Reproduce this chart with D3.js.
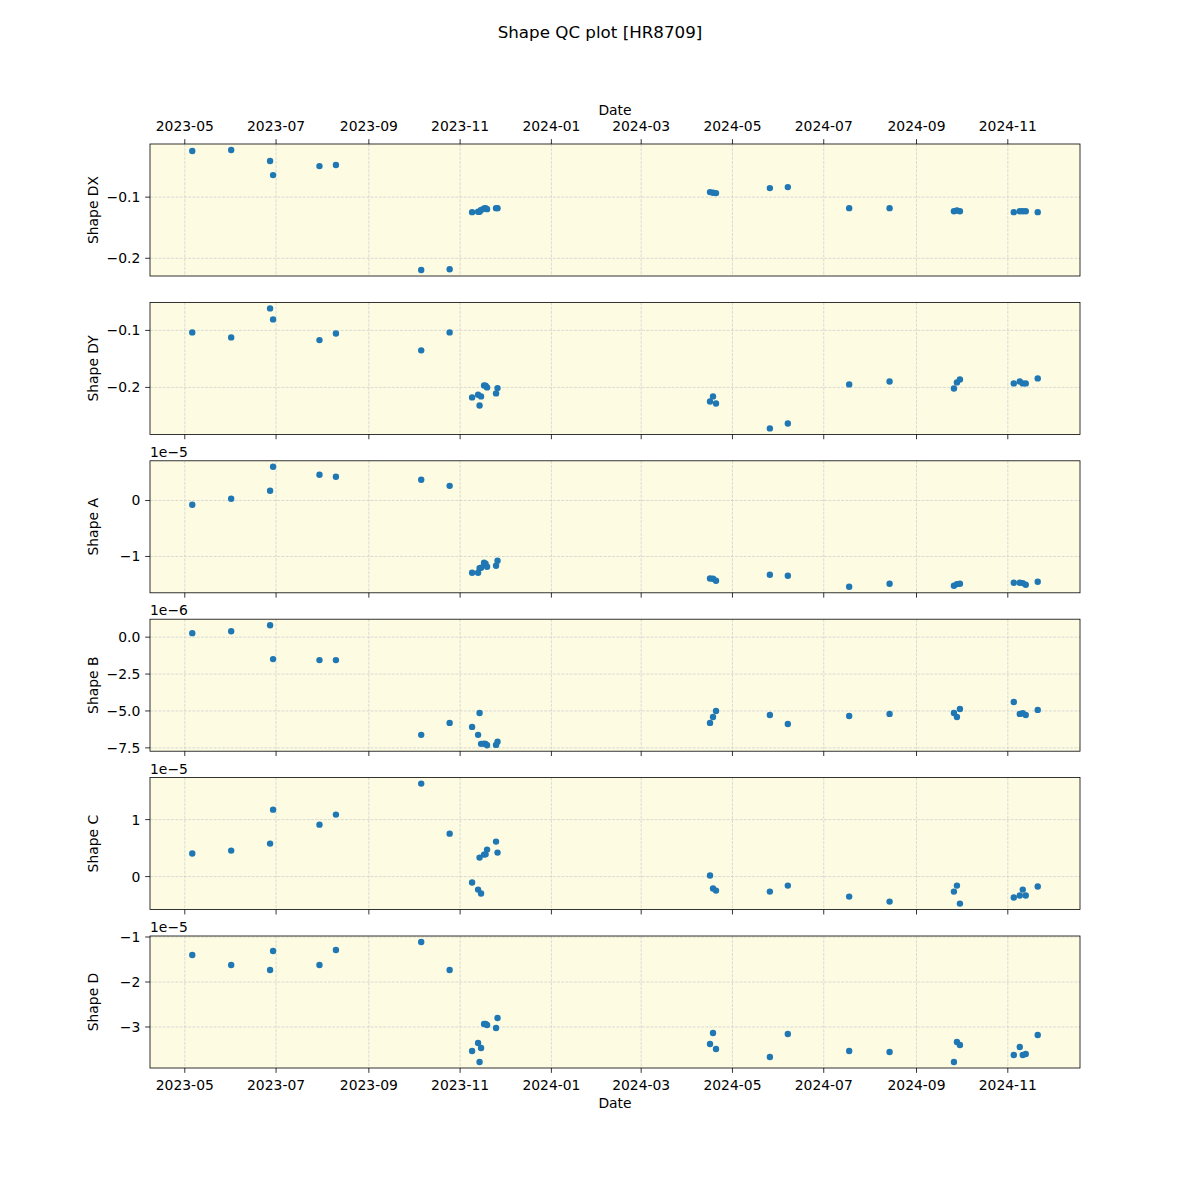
<!DOCTYPE html>
<html>
<head>
<meta charset="utf-8">
<script src="https://cdn.jsdelivr.net/npm/d3@7"></script>
<style>
  html, body { margin: 0; padding: 0; background: #ffffff; }
  svg { display: block; }
  text { font-family: "DejaVu Sans", sans-serif; fill: #000; }
</style>
</head>
<body>
<div id="chart"></div>
<script>
// ---------------- data ----------------
const dates = ["2023-05-06","2023-06-01","2023-06-27","2023-06-29","2023-07-30","2023-08-10","2023-10-06","2023-10-25",
  "2023-11-09","2023-11-13","2023-11-14","2023-11-15","2023-11-17","2023-11-18","2023-11-19","2023-11-25","2023-11-26",
  "2024-04-16","2024-04-18","2024-04-20","2024-05-26","2024-06-07","2024-07-18","2024-08-14",
  "2024-09-26","2024-09-28","2024-09-30","2024-11-05","2024-11-09","2024-11-11","2024-11-13","2024-11-21"];

const shapeDX = [-0.0246,-0.0229,-0.041,-0.064,-0.0492,-0.0475,-0.2192,-0.218,
  -0.1246,-0.124,-0.124,-0.121,-0.1187,-0.118,-0.1197,-0.118,-0.118,
  -0.0918,-0.0929,-0.0934,-0.0852,-0.0836,-0.118,-0.118,-0.123,-0.1219,-0.123,-0.1246,-0.123,-0.123,-0.123,-0.1246];

const shapeDY = [-0.1035,-0.1123,-0.0614,-0.0807,-0.117,-0.1053,-0.135,-0.1035,
  -0.2175,-0.213,-0.2316,-0.2158,-0.1965,-0.197,-0.2,-0.2105,-0.2012,
  -0.2246,-0.2158,-0.2281,-0.2719,-0.2632,-0.1947,-0.1895,-0.2018,-0.1912,-0.186,-0.193,-0.1895,-0.193,-0.193,-0.1842];

// mantissas (x 1e-5)
const shapeA = [-0.077,0.03,0.173,0.602,0.459,0.423,0.37,0.262,
  -1.291,-1.291,-1.208,-1.202,-1.113,-1.131,-1.184,-1.167,-1.077,
  -1.393,-1.399,-1.435,-1.327,-1.345,-1.542,-1.488,-1.524,-1.494,-1.488,-1.47,-1.47,-1.476,-1.506,-1.452];

// mantissas (x 1e-6)
const shapeB = [0.27,0.405,0.81,-1.486,-1.554,-1.554,-6.62,-5.81,
  -6.08,-6.62,-5.135,-7.23,-7.21,-7.23,-7.32,-7.3,-7.09,
  -5.81,-5.405,-5.0,-5.27,-5.88,-5.34,-5.2,-5.135,-5.405,-4.865,-4.39,-5.2,-5.16,-5.27,-4.93];

// mantissas (x 1e-5)
const shapeC = [0.404,0.456,0.579,1.175,0.912,1.088,1.632,0.754,
  -0.105,-0.228,0.333,-0.298,0.386,0.39,0.474,0.614,0.421,
  0.018,-0.21,-0.246,-0.263,-0.158,-0.351,-0.439,-0.263,-0.158,-0.474,-0.368,-0.333,-0.228,-0.333,-0.175];

// mantissas (x 1e-5)
const shapeD = [-1.4,-1.622,-1.733,-1.311,-1.622,-1.289,-1.111,-1.733,
  -3.533,-3.356,-3.778,-3.467,-2.933,-2.933,-2.956,-3.022,-2.8,
  -3.378,-3.133,-3.489,-3.667,-3.156,-3.533,-3.556,-3.778,-3.333,-3.4,-3.622,-3.444,-3.622,-3.6,-3.178];

const panelLabels = ["Shape DX","Shape DY","Shape A","Shape B","Shape C","Shape D"];
const panelOffsets = ["", "", "1e\u22125", "1e\u22126", "1e\u22125", "1e\u22125"];
const yTickValues = [[-0.2,-0.1],[-0.2,-0.1],[-1,0],[-7.5,-5,-2.5,0],[0,1],[-3,-2,-1]];
const yTickLabels = [["\u22120.2","\u22120.1"],["\u22120.2","\u22120.1"],["\u22121","0"],
  ["\u22127.5","\u22125.0","\u22122.5","0.0"],["0","1"],["\u22123","\u22122","\u22121"]];
const titleText = "Shape QC plot [HR8709]";
const xLabel = "Date";

// ---------------- layout ----------------
const W = 1200, H = 1200;
const left = 150, right = 1080;
const top0 = 144, panelH = 132, step = 158.4;
const bg = "#fdfce3";
const gridColor = "#d0d0d0";
const dotColor = "#1f77b4";
const fs = 13.9;
const tickLen = 4.86, tickPad = 4.86;

const parse = d3.utcParse("%Y-%m-%d");
const dateObjs = dates.map(parse);
const series = [shapeDX, shapeDY, shapeA, shapeB, shapeC, shapeD];

const svg = d3.select("#chart").append("svg").attr("width", W).attr("height", H);
svg.append("rect").attr("width", W).attr("height", H).attr("fill", "#fff");

// x domain: data extent with 5% margins (matplotlib default)
const dExt = d3.extent(dateObjs, d => +d);
const dPad = (dExt[1] - dExt[0]) * 0.05;
const x = d3.scaleUtc().domain([new Date(dExt[0] - dPad), new Date(dExt[1] + dPad)]).range([left, right]);
const xTicks = x.ticks(d3.utcMonth.every(2));
const fmt = d3.utcFormat("%Y-%m");

svg.append("text").attr("x", 600).attr("y", 38).attr("text-anchor", "middle")
  .style("font-size", "16.7px").text(titleText);

series.forEach((vals, i) => {
  const top = top0 + i * step, bottom = top + panelH;
  const ext = d3.extent(vals);
  const pad = (ext[1] - ext[0]) * 0.05;
  const y = d3.scaleLinear().domain([ext[0] - pad, ext[1] + pad]).range([bottom, top]);
  const g = svg.append("g");

  g.append("rect").attr("x", left).attr("y", top).attr("width", right - left).attr("height", panelH).attr("fill", bg);

  // grid
  const grid = g.append("g").attr("stroke", gridColor).attr("stroke-width", 0.8).attr("stroke-dasharray", "2.96,1.28");
  xTicks.forEach(t => grid.append("line").attr("x1", x(t)).attr("x2", x(t)).attr("y1", top).attr("y2", bottom));
  yTickValues[i].forEach(v => grid.append("line").attr("x1", left).attr("x2", right).attr("y1", y(v)).attr("y2", y(v)));

  // points
  g.append("g").selectAll("circle").data(vals).join("circle")
    .attr("cx", (d, j) => x(dateObjs[j])).attr("cy", d => y(d)).attr("r", 3.2).attr("fill", dotColor);

  // spines
  g.append("rect").attr("x", left).attr("y", top).attr("width", right - left).attr("height", panelH)
    .attr("fill", "none").attr("stroke", "#000").attr("stroke-width", 0.8);

  // y ticks
  yTickValues[i].forEach((v, k) => {
    g.append("line").attr("x1", left - tickLen).attr("x2", left).attr("y1", y(v)).attr("y2", y(v))
      .attr("stroke", "#000").attr("stroke-width", 0.8);
    g.append("text").attr("x", left - tickLen - tickPad).attr("y", y(v)).attr("dy", "0.36em").attr("text-anchor", "end")
      .style("font-size", fs + "px").text(yTickLabels[i][k]);
  });

  // y label
  g.append("text").attr("transform", `translate(98,${top + panelH / 2}) rotate(-90)`)
    .attr("text-anchor", "middle").style("font-size", fs + "px").text(panelLabels[i]);

  // offset text
  if (panelOffsets[i]) {
    g.append("text").attr("x", left).attr("y", top - 4).style("font-size", fs + "px").text(panelOffsets[i]);
  }

  // x ticks
  if (i === 0) {
    xTicks.forEach(t => {
      g.append("line").attr("x1", x(t)).attr("x2", x(t)).attr("y1", top - tickLen).attr("y2", top)
        .attr("stroke", "#000").attr("stroke-width", 0.8);
      g.append("text").attr("x", x(t)).attr("y", top - 13).attr("text-anchor", "middle")
        .style("font-size", fs + "px").text(fmt(t));
    });
    g.append("text").attr("x", (left + right) / 2).attr("y", top - 29).attr("text-anchor", "middle")
      .style("font-size", fs + "px").text(xLabel);
  } else {
    xTicks.forEach(t => {
      g.append("line").attr("x1", x(t)).attr("x2", x(t)).attr("y1", bottom).attr("y2", bottom + tickLen)
        .attr("stroke", "#000").attr("stroke-width", 0.8);
      if (i === 5) {
        g.append("text").attr("x", x(t)).attr("y", bottom + 22).attr("text-anchor", "middle")
          .style("font-size", fs + "px").text(fmt(t));
      }
    });
    if (i === 5) {
      g.append("text").attr("x", (left + right) / 2).attr("y", bottom + 40).attr("text-anchor", "middle")
        .style("font-size", fs + "px").text(xLabel);
    }
  }
});
</script>
</body>
</html>
